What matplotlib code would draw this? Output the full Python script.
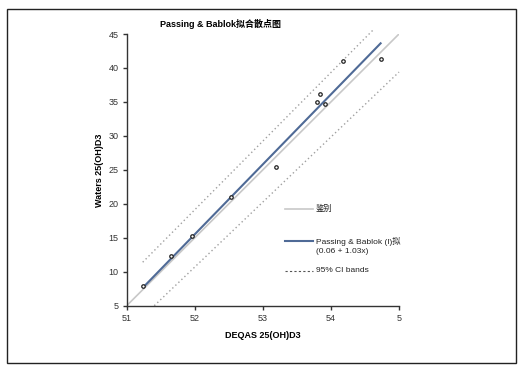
import matplotlib
matplotlib.use("Agg")
import matplotlib.pyplot as plt
from matplotlib.patches import Rectangle
from matplotlib.lines import Line2D

plt.rcParams['font.family'] = ['Liberation Sans', 'Noto Sans CJK SC', 'DejaVu Sans']

# data
x_vals = [7.44, 11.5, 14.63, 20.3, 26.9, 32.9, 33.4, 34.2, 36.8, 42.3]
y_vals = [7.94, 12.25, 15.25, 21.0, 25.4, 34.95, 36.1, 34.7, 41.0, 41.3]
fit_intercept = 0.06
fit_slope = 1.03
identity_x = [5, 45]
upper_x = [7.35, 41.2]
upper_y = [11.4, 45.6]
lower_x = [9.05, 45.0]
lower_y = [5.0, 39.4]
x_ticks = [5, 15, 25, 35, 45]
x_tick_labels = ['51', '52', '53', '54', '5']
y_ticks = [5, 10, 15, 20, 25, 30, 35, 40, 45]

W, H = 527, 380
fig = plt.figure(figsize=(W / 100, H / 100), dpi=100)
fig.patch.set_facecolor('white')

ax = fig.add_axes([126.7 / W, 1 - 305.7 / H, (399 - 126.7) / W, (305.7 - 34) / H])
ax.set_xlim(5, 45)
ax.set_ylim(5, 45)

# identity line
ax.plot(identity_x, identity_x, color='#c8c8c8', lw=1.2, zorder=2)
# fit line
fx = [min(x_vals), max(x_vals)]
fy = [fit_intercept + fit_slope * v for v in fx]
ax.plot(fx, fy, color='#4f6a96', lw=1.5, zorder=3)
# CI bands
ax.plot(upper_x, upper_y, color='#a0a0a0', lw=1.0, ls=(0, (1, 2)), zorder=2, clip_on=False)
ax.plot(lower_x, lower_y, color='#a0a0a0', lw=1.0, ls=(0, (1, 2)), zorder=2, clip_on=False)
# points
ax.plot(x_vals, y_vals, ls='none', marker='o', ms=2.5, mfc='white', mec='#222222', mew=0.9, zorder=4)

for s in ['top', 'right']:
    ax.spines[s].set_visible(False)
for s in ['left', 'bottom']:
    ax.spines[s].set_color('#333333')
    ax.spines[s].set_linewidth(1.0)

ax.set_xticks(x_ticks)
ax.set_xticklabels(x_tick_labels)
ax.set_yticks(y_ticks)
ax.tick_params(axis='both', direction='out', length=3, width=1, color='#333333',
               labelsize=6.5, labelcolor='#333333', pad=3)

ax.set_xlabel('DEQAS 25(OH)D3', fontsize=6.5, fontweight='bold', labelpad=6)
ax.set_ylabel('Waters 25(OH)D3', fontsize=6.5, fontweight='bold', labelpad=3)

fig.text(221 / W, 1 - 24 / H, 'Passing & Bablok拟合散点图', fontsize=6.5, fontweight='bold',
         ha='center', va='center')

# legend
def leg_line(y, **kw):
    fig.add_artist(Line2D([285 / W, 313 / W], [1 - y / H, 1 - y / H], transform=fig.transFigure, **kw))

leg_line(209.3, color='#c8c8c8', lw=1.2)
fig.text(316 / W, 1 - 209.3 / H, '鉴别', fontsize=6, va='center', color='#222222')
leg_line(241, color='#4f6a96', lw=1.5)
fig.text(316 / W, 1 - 241 / H, 'Passing & Bablok (I)拟', fontsize=6, va='center', color='#222222')
fig.text(316 / W, 1 - 251.5 / H, '(0.06 + 1.03x)', fontsize=6, va='center', color='#222222')
leg_line(271, color='#555555', lw=0.8, ls=(0, (2, 2)))
fig.text(316 / W, 1 - 271 / H, '95% CI bands', fontsize=6, va='center', color='#222222')

# border
fig.add_artist(Rectangle((7 / W, 1 - 362.7 / H), (516 - 7) / W, (362.7 - 9) / H,
                         transform=fig.transFigure, fill=False, ec='#222222', lw=1.0))

fig.savefig('out.png', dpi=100)
